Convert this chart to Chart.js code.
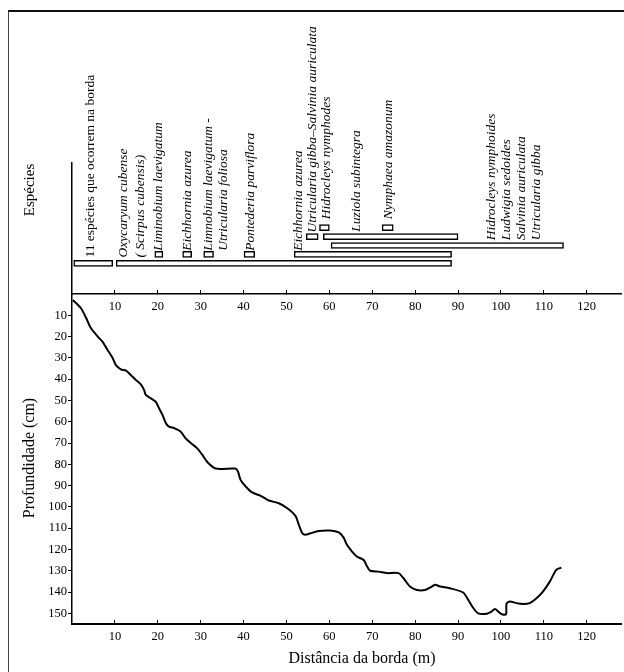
<!DOCTYPE html>
<html>
<head>
<meta charset="utf-8">
<script src="https://cdn.jsdelivr.net/npm/chart.js@4.4.1/dist/chart.umd.min.js"></script>
<style>
  html, body { margin: 0; padding: 0; background: #fff; }
  #page { position: relative; width: 624px; height: 672px; overflow: hidden; }
  #frame { position: absolute; left: 8px; top: 10px; right: -4px; bottom: -4px;
           border-top: 2px solid #111; border-left: 1px solid #444; }
  canvas { position: absolute; left: 0; }
  #species { top: 0; }
  #depth { top: 280px; }
</style>
</head>
<body>
<div id="page">
  <div id="frame"></div>
  <canvas id="species" width="624" height="320"></canvas>
  <canvas id="depth" width="624" height="392"></canvas>
</div>
<script>
const xTicks = [10, 20, 30, 40, 50, 60, 70, 80, 90, 100, 110, 120];
const depthTicks = [10, 20, 30, 40, 50, 60, 70, 80, 90, 100, 110, 120, 130, 140, 150];

// depth profile (m from the edge, cm deep)
const distance = [0.2, 2.1, 3.3, 4.4, 6.0, 7.1, 8.3, 9.5, 10.2, 11.4, 12.6, 13.7, 14.9, 16.0, 16.8, 17.2,
  18.4, 19.5, 20.3, 21.1, 21.9, 22.6, 23.8, 25.3, 26.5, 27.7, 29.2, 30.4, 31.6, 33.5, 38.1, 38.7,
  39.3, 40.5, 42.0, 44.0, 45.9, 48.2, 50.2, 52.1, 52.9, 53.7, 54.4, 55.6, 57.5, 60.2, 62.2, 63.3,
  64.1, 65.3, 66.4, 68.0, 68.8, 69.5, 71.5, 73.4, 76.1, 77.3, 78.8, 80.4, 82.3, 83.9, 84.7, 85.8,
  88.1, 91.2, 92.4, 93.6, 94.7, 96.7, 97.8, 98.6, 99.4, 100.2, 101.2, 101.3, 102.1, 103.6, 105.2,
  106.7, 108.3, 109.8, 111.4, 112.9, 114.1];
const depth = [2.8, 6.7, 11.3, 16.0, 20.0, 22.4, 26.3, 30.2, 33.3, 35.4, 36.0, 38.0, 40.4, 42.3, 45.0, 47.4,
  49.0, 50.6, 53.7, 56.8, 60.7, 62.3, 63.0, 64.6, 67.8, 70.0, 72.5, 75.6, 79.0, 82.0, 82.0, 83.4,
  87.3, 90.4, 93.2, 94.8, 97.0, 98.3, 100.6, 104.2, 108.5, 112.4, 113.1, 112.4, 111.3, 111.1, 112.0, 114.3,
  117.8, 121.0, 123.3, 124.9, 128.0, 130.0, 130.4, 131.1, 131.1, 133.5, 137.4, 139.0, 139.0, 137.4, 136.6, 137.4,
  138.2, 140.2, 143.7, 147.6, 150.0, 150.2, 149.2, 148.0, 149.2, 150.4, 150.4, 145.5, 144.4, 145.2, 145.6,
  145.2, 142.9, 139.8, 135.1, 129.6, 128.5];

// species occurrence bars: row, start (m), end (m)
const barRow = [1, 1, 2, 2, 2, 2, 2, 3, 4, 4, 5, 5];
const barStart = [0.4, 10.3, 19.3, 25.8, 30.7, 40.1, 51.8, 60.4, 54.6, 58.6, 57.7, 72.3];
const barEnd = [9.5, 88.5, 21.2, 27.9, 33.0, 42.6, 88.5, 114.6, 57.4, 90.0, 60.0, 74.9];

// species names: x (m), row where the text starts, italic
const speciesNames = ['11 espécies que ocorrem na borda', 'Oxycaryum cubense', '( Scirpus cubensis)',
  'Liminobium laevigatum', 'Eichhornia azurea', 'Limnobium laevigatum -', 'Utricularia foliosa',
  'Pontederia parviflora', 'Eichhornia azurea', 'Utricularia gibba–Salvinia auriculata',
  'Hidrocleys nymphodes', 'Luziola subintegra', 'Nymphaea amazonum', 'Hidrocleys nymphoides',
  'Ludwigia sedoides', 'Salvinia auriculata', 'Utricularia gibba'];
const speciesX = [4.2, 11.9, 16.0, 20.2, 27.0, 31.9, 35.3, 41.6, 52.8, 56.0, 59.3, 66.3, 73.7, 97.9, 101.4, 104.9, 108.4];
const speciesRow = [1.65, 1.65, 1.65, 2.4, 2.4, 2.4, 2.4, 2.4, 2.4, 4.44, 5.93, 4.53, 5.93, 3.6, 3.6, 3.6, 3.6];
const speciesItalic = [false, true, true, true, true, true, true, true, true, true, true, true, true, true, true, true, true];

const FONT = "'Liberation Serif', 'DejaVu Serif', serif";
Chart.defaults.font.family = FONT;
Chart.defaults.color = '#000';

const speciesLabels = {
    id: 'speciesLabels',
    afterDatasetsDraw(chart) {
        const { ctx, scales: { x, y } } = chart;
        ctx.save();
        ctx.fillStyle = '#000';
        ctx.textAlign = 'left';
        ctx.textBaseline = 'middle';
        speciesNames.forEach((name, i) => {
            ctx.save();
            ctx.translate(x.getPixelForValue(speciesX[i]), y.getPixelForValue(speciesRow[i]));
            ctx.rotate(-Math.PI / 2);
            ctx.font = (speciesItalic[i] ? 'italic ' : '') + '13.5px ' + FONT;
            ctx.fillText(name, 0, 0);
            ctx.restore();
        });
        ctx.restore();
    }
};

// axis titles placed where the original figure has them
function axisTitles(items) {
    return {
        id: 'axisTitles',
        afterDraw(chart) {
            const ctx = chart.ctx;
            ctx.save();
            ctx.fillStyle = '#000';
            ctx.textAlign = 'center';
            ctx.textBaseline = 'middle';
            items.forEach(t => {
                ctx.save();
                ctx.translate(t.x, t.y);
                if (t.rotate) ctx.rotate(-Math.PI / 2);
                ctx.font = t.size + 'px ' + FONT;
                ctx.fillText(t.text, 0, 0);
                ctx.restore();
            });
            ctx.restore();
        }
    };
}

const setXTicks = axis => { axis.ticks = xTicks.map(v => ({ value: v })); };

new Chart(document.getElementById('species'), {
    type: 'bar',
    data: {
        datasets: [{
            data: barRow.map((r, i) => ({ x: [barStart[i], barEnd[i]], y: r })),
            backgroundColor: '#fff',
            borderColor: '#000',
            borderWidth: 1.5,
            borderSkipped: false,
            barThickness: 6
        }]
    },
    options: {
        indexAxis: 'y',
        responsive: false,
        animation: false,
        layout: { padding: { top: 163, right: 3, left: 0, bottom: 0 } },
        plugins: { legend: { display: false }, tooltip: { enabled: false } },
        scales: {
            x: {
                type: 'linear',
                min: 0,
                max: 128,
                afterBuildTicks: setXTicks,
                afterFit: s => { s.height = 26; },
                grid: { display: true, drawOnChartArea: false, tickLength: -4, color: '#000', lineWidth: 1 },
                border: { display: true, color: '#000', width: 1.5 },
                ticks: { font: { size: 12.5 }, padding: 9, maxRotation: 0 }
            },
            y: {
                type: 'linear',
                min: -1.2,
                max: 11,
                afterFit: s => { s.width = 72; },
                grid: { display: false },
                border: { display: true, color: '#000', width: 1.5 },
                ticks: { display: false }
            }
        }
    },
    plugins: [speciesLabels, axisTitles([{ text: 'Espécies', x: 30, y: 190, size: 15, rotate: true }])]
});

new Chart(document.getElementById('depth'), {
    type: 'line',
    data: {
        datasets: [{
            data: distance.map((d, i) => ({ x: d, y: depth[i] })),
            borderColor: '#000',
            borderWidth: 2,
            pointRadius: 0,
            tension: 0.25,
            fill: false
        }]
    },
    options: {
        responsive: false,
        animation: false,
        layout: { padding: { top: 14, right: 3, left: 0, bottom: 0 } },
        plugins: { legend: { display: false }, tooltip: { enabled: false } },
        scales: {
            x: {
                type: 'linear',
                min: 0,
                max: 128,
                afterBuildTicks: setXTicks,
                afterFit: s => { s.height = 48; },
                grid: { display: true, drawOnChartArea: false, tickLength: -4, color: '#000', lineWidth: 1 },
                border: { display: true, color: '#000', width: 2 },
                ticks: { font: { size: 12.5 }, padding: 9, maxRotation: 0 }
            },
            y: {
                type: 'linear',
                reverse: true,
                min: 0,
                max: 155,
                afterBuildTicks: axis => { axis.ticks = depthTicks.map(v => ({ value: v })); },
                afterFit: s => { s.width = 72; },
                grid: { display: true, drawOnChartArea: false, tickLength: 4, color: '#000', lineWidth: 1 },
                border: { display: true, color: '#000', width: 1.5 },
                ticks: { font: { size: 12.5 }, padding: 1 }
            }
        }
    },
    plugins: [axisTitles([
        { text: 'Profundidade (cm)', x: 30, y: 178, size: 16, rotate: true },
        { text: 'Distância da borda (m)', x: 362, y: 379, size: 16, rotate: false }
    ])]
});
</script>
</body>
</html>
